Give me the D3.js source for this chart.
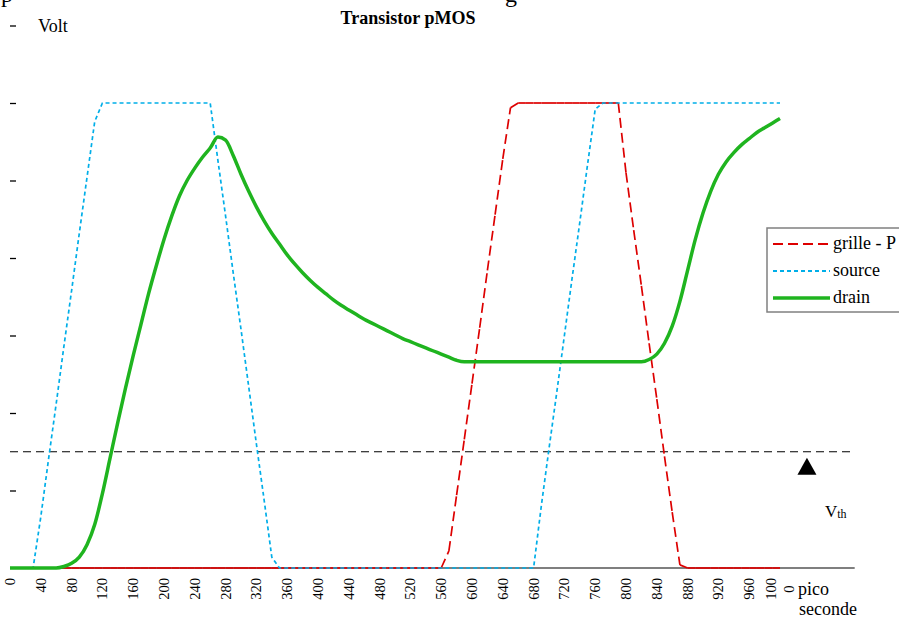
<!DOCTYPE html>
<html>
<head>
<meta charset="utf-8">
<script src="https://cdn.jsdelivr.net/npm/d3@7"></script>
<style>
  html, body { margin: 0; padding: 0; background: #fff; overflow: hidden; }
  svg { display: block; font-family: "Liberation Serif", "Times New Roman", serif; }
</style>
</head>
<body>
<div id="chart"></div>
<script>
// sample times in pico seconds (one sample every 10 ps)
const times = [0,10,20,30,40,50,60,70,80,90,100,110,120,130,140,150,160,170,180,190,200,
  210,220,230,240,250,260,270,280,290,300,310,320,330,340,350,360,370,380,390,400,
  410,420,430,440,450,460,470,480,490,500,510,520,530,540,550,560,570,580,590,600,
  610,620,630,640,650,660,670,680,690,700,710,720,730,740,750,760,770,780,790,800,
  810,820,830,840,850,860,870,880,890,900,910,920,930,940,950,960,970,980,990,1000];

// gate voltage (Volt)
const grille = [0,0,0,0,0,0,0,0,0,0,0,0,0,0,0,0,0,0,0,0,0,
  0,0,0,0,0,0,0,0,0,0,0,0,0,0,0,0,0,0,0,0,
  0,0,0,0,0,0,0,0,0,0,0,0,0,0,0,0,0.11,0.47,0.83,1.19,
  1.55,1.92,2.28,2.64,2.97,3,3,3,3,3,3,3,3,3,3,3,3,3,3,2.55,
  2.18,1.82,1.45,1.09,0.72,0.36,0.02,0,0,0,0,0,0,0,0,0,0,0,0,0];

// source voltage (Volt)
const source = [0,0,0,0,0.33,0.70,1.06,1.43,1.79,2.16,2.52,2.88,3,3,3,3,3,3,3,3,3,
  3,3,3,3,3,3,2.63,2.27,1.90,1.54,1.17,0.80,0.44,0.07,0,0,0,0,0,0,
  0,0,0,0,0,0,0,0,0,0,0,0,0,0,0,0,0,0,0,0,
  0,0,0,0,0,0,0,0,0.40,0.77,1.13,1.50,1.87,2.23,2.60,2.96,3,3,3,3,
  3,3,3,3,3,3,3,3,3,3,3,3,3,3,3,3,3,3,3,3];

// drain voltage (Volt)
const drain = [0,0,0,0,0,0,0,0.01,0.03,0.07,0.15,0.28,0.48,0.71,0.94,1.16,1.37,1.57,1.77,1.95,2.12,
  2.27,2.40,2.50,2.58,2.65,2.71,2.78,2.76,2.66,2.54,2.43,2.33,2.24,2.16,2.09,2.02,1.96,1.905,1.855,1.81,
  1.77,1.73,1.695,1.665,1.635,1.605,1.58,1.555,1.53,1.505,1.48,1.46,1.44,1.42,1.40,1.38,1.36,1.34,1.33,1.33,
  1.33,1.33,1.33,1.33,1.33,1.33,1.33,1.33,1.33,1.33,1.33,1.33,1.33,1.33,1.33,1.33,1.33,1.33,1.33,1.33,
  1.33,1.33,1.345,1.38,1.45,1.56,1.72,1.92,2.12,2.29,2.43,2.54,2.62,2.68,2.73,2.77,2.81,2.84,2.87,2.90];

// x tick labels (pico seconds) and y ticks (Volt, no labels)
const xTickLabels = ["0","40","80","120","160","200","240","280","320","360","400","440","480",
  "520","560","600","640","680","720","760","800","840","880","920","960","1000"];
const yTicks = [0.5, 1, 1.5, 2, 2.5, 3, 3.5];
// threshold voltage
const vth = 0.75;

const seriesNames = ["grille - P", "source", "drain"];
const seriesColors = ["#dd0000", "#00aee8", "#1fb41f"];

const width = 899, height = 618;

const svg = d3.select('#chart')
  .append('svg')
  .attr('width', width)
  .attr('height', height);

const x = d3.scaleLinear().domain([0, 1000]).range([10, 780]);
const y = d3.scaleLinear().domain([0, 3.5]).range([568, 25.5]);

// cut off line of the surrounding document at the very top
svg.append('text').attr('x', 1).attr('y', 2).style('font-size', '24px').text('p');
svg.append('text').attr('x', 505).attr('y', 2).style('font-size', '24px').text('g');

// title
svg.append('text')
  .attr('x', 408).attr('y', 24)
  .attr('text-anchor', 'middle')
  .style('font-size', '18px').style('font-weight', 'bold')
  .text('Transistor pMOS');

// y unit
svg.append('text').attr('x', 38).attr('y', 32).style('font-size', '18px').text('Volt');

// y ticks: small dashes only
svg.append('g')
  .attr('transform', `translate(${x(0)},0)`)
  .call(d3.axisRight(y).tickValues(yTicks).tickSize(6).tickFormat(''))
  .call(g => g.select('.domain').remove())
  .selectAll('line').attr('stroke', '#000').attr('stroke-width', 1.3);

// x axis line (runs a bit past the data)
svg.append('line')
  .attr('x1', x(0)).attr('x2', x(1097))
  .attr('y1', y(0)).attr('y2', y(0))
  .attr('stroke', '#000').attr('stroke-width', 1.2);

// x tick labels, rotated; long labels wrap on two lines like the original
const xl = svg.append('g').selectAll('text')
  .data(xTickLabels)
  .join('text')
  .attr('transform', d => `translate(${x(+d)},${y(0) + 10}) rotate(-90)`)
  .attr('text-anchor', 'end')
  .style('font-size', '14.5px');
xl.each(function(d) {
  const t = d3.select(this);
  if (d.length > 3) {
    t.append('tspan').attr('x', 0).attr('dy', '-0.28em').text(d.slice(0, 3));
    t.append('tspan').attr('x', -7.5).attr('dy', '1.24em').text(d.slice(3));
  } else {
    t.attr('dy', '0.35em').text(d);
  }
});

// unit of the x axis
svg.append('text').attr('x', 798).attr('y', 595).style('font-size', '18px').text('pico');
svg.append('text').attr('x', 799).attr('y', 615).style('font-size', '18px').text('seconde');

// threshold line
svg.append('line')
  .attr('x1', x(0)).attr('x2', x(1097))
  .attr('y1', y(vth)).attr('y2', y(vth))
  .attr('stroke', '#000').attr('stroke-width', 1.2)
  .attr('stroke-dasharray', '8,5');

// arrow and label for Vth
const ty = y(vth) + 6, tx = x(1035);
svg.append('path')
  .attr('d', `M${tx},${ty} L${tx + 9.5},${ty + 17} L${tx - 9.5},${ty + 17} Z`)
  .attr('fill', '#000');
const vthLabel = svg.append('text').attr('x', 825).attr('y', 517).style('font-size', '17px');
vthLabel.append('tspan').text('V');
vthLabel.append('tspan').style('font-size', '12px').attr('dy', 1).text('th');

const line = d3.line().x(d => x(d[0])).y(d => y(d[1]));

// grille: each sample step is its own dashed segment, so flat parts look solid
const grillePts = times.map((t, i) => [t, grille[i]]);
svg.append('g').selectAll('path')
  .data(d3.pairs(grillePts))
  .join('path')
  .attr('d', d => line(d))
  .attr('fill', 'none')
  .attr('stroke', seriesColors[0])
  .attr('stroke-width', 1.7)
  .attr('stroke-dasharray', '10,5');

// source: dotted
svg.append('path')
  .datum(times.map((t, i) => [t, source[i]]))
  .attr('d', line)
  .attr('fill', 'none')
  .attr('stroke', seriesColors[1])
  .attr('stroke-width', 1.7)
  .attr('stroke-dasharray', '4,3');

// drain: thick smooth line
svg.append('path')
  .datum(times.map((t, i) => [t, drain[i]]))
  .attr('d', d3.line().x(d => x(d[0])).y(d => y(d[1])).curve(d3.curveMonotoneX))
  .attr('fill', 'none')
  .attr('stroke', seriesColors[2])
  .attr('stroke-width', 3.5)
  .attr('stroke-linejoin', 'round');

// legend
const legend = svg.append('g').attr('transform', 'translate(767,228)');
legend.append('rect')
  .attr('width', 150).attr('height', 84)
  .attr('fill', '#fff')
  .attr('stroke', '#808080').attr('stroke-width', 1.5);
const dashes = ['10,5', '4,3', null];
const widths = [2, 2, 3.5];
seriesNames.forEach((name, i) => {
  const yy = 16 + i * 27;
  legend.append('line')
    .attr('x1', 6).attr('x2', 63)
    .attr('y1', yy).attr('y2', yy)
    .attr('stroke', seriesColors[i])
    .attr('stroke-width', widths[i])
    .attr('stroke-dasharray', dashes[i]);
  legend.append('text')
    .attr('x', 66).attr('y', yy + 5)
    .style('font-size', '18px')
    .text(name);
});
</script>
</body>
</html>
